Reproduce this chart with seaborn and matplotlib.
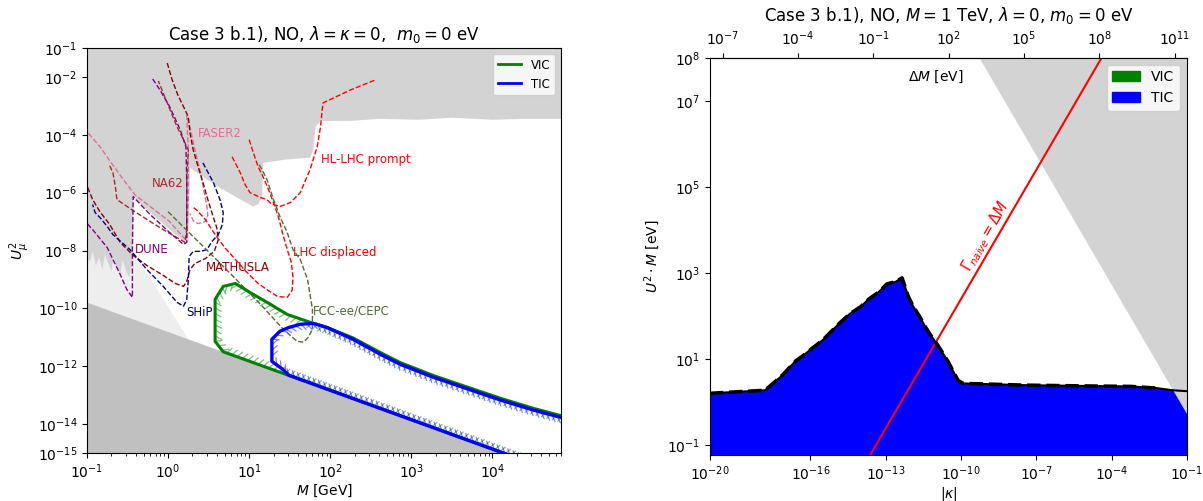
import numpy as np
import matplotlib
matplotlib.use("Agg")
import matplotlib.pyplot as plt
import matplotlib.patheffects as pe
from matplotlib.lines import Line2D
from matplotlib.patches import Patch
from matplotlib.ticker import NullLocator
import seaborn as sns

# ---------------- left panel: U_mu^2 vs M (log10 values) ----------------
# lower edge of the excluded region (upper grey area)
excl_logM = [-1.05, -0.96, -0.93, -0.89, -0.85, -0.81, -0.78, -0.74, -0.70, -0.67,
             -0.63, -0.59, -0.56, -0.52, -0.48, -0.44, -0.43, -0.22, 0.02, 0.19,
             0.25, 0.27, 0.48, 0.64, 0.85, 1.05, 1.11, 1.16, 1.17, 1.44,
             1.75, 1.79, 1.82, 1.88, 2.25, 2.6, 3.1, 3.5, 4.0, 4.4, 4.9]
excl_logU = [-8.17, -8.38, -8.03, -8.52, -8.24, -8.66, -8.14, -8.41, -8.72, -8.21,
             -8.59, -8.83, -8.31, -8.69, -8.93, -8.38, -6.14, -6.69, -7.28, -7.66,
             -7.72, -5.14, -5.55, -5.83, -6.17, -6.48, -6.41, -6.14, -4.97, -4.86,
             -4.79, -4.52, -3.72, -3.52, -3.52, -3.45, -3.48, -3.41, -3.48, -3.45, -3.45]

# faint region (BBN-type) at low mass
light_logM = [-1.05, -0.43, 0.25, 0.25, -1.05]
light_logU = [-8.0, -8.03, -11.06, -16.0, -16.0]

# seesaw line
seesaw_logM = [-1.05, 4.9]
seesaw_logU = [-9.74, -15.78]

# VIC / TIC contours
vic_logM = [4.9, 4.51, 4.10, 3.70, 3.27, 2.86, 2.62, 2.28, 1.96, 1.75, 1.47, 1.22, 1.01,
            0.83, 0.68, 0.58, 0.58, 0.68, 1.5, 4.9]
vic_logU = [-13.75, -13.46, -13.11, -12.73, -12.32, -11.87, -11.53, -11.02, -10.66, -10.48,
            -10.21, -9.79, -9.45, -9.14, -9.24, -9.69, -11.14, -11.50, -12.33, -15.78]
tic_logM = [4.9, 4.51, 4.10, 3.70, 3.27, 2.86, 2.62, 2.28, 1.96, 1.79, 1.63, 1.49, 1.38,
            1.28, 1.28, 1.41, 1.49, 4.9]
tic_logU = [-13.81, -13.52, -13.17, -12.79, -12.38, -11.93, -11.59, -11.07, -10.66, -10.52,
            -10.55, -10.66, -10.79, -11.07, -11.83, -12.10, -12.31, -15.78]

# projected sensitivities
faser_logM = [-1.04, -1.01, -0.84, -0.70, -0.57, -0.41, -0.17, 0.02, 0.19, 0.23, 0.25, 0.25,
              0.23, 0.27, 0.33, 0.40, 0.44, 0.48, 0.49, 0.46, 0.37, 0.31, 0.27]
faser_logU = [-2.97, -3.86, -4.41, -4.97, -5.48, -6.07, -6.59, -7.00, -7.55, -7.62, -6.24, -4.52,
              -3.34, -3.72, -4.52, -5.31, -5.90, -6.48, -6.79, -7.00, -7.07, -6.97, -6.72]
dune_logM = [-0.19, -0.10, 0.02, 0.15, 0.22, 0.23, 0.23, 0.19, 0.02, -0.22, -0.43, -0.44,
             -0.44, -0.51, -0.59, -0.68, -0.75, -0.86, -0.93, -1.02]
dune_logU = [-2.07, -2.45, -3.03, -3.83, -4.41, -5.55, -7.72, -7.79, -7.38, -6.76, -6.14, -7.97,
             -9.62, -9.34, -8.83, -8.31, -7.90, -7.52, -7.28, -7.00]
na62_logM = [-0.72, -0.68, -0.65, -0.63, -0.41, -0.06, 0.15, 0.21, 0.23, 0.23, 0.25, 0.19,
             0.11, -0.01, -0.12]
na62_logU = [-5.07, -5.31, -5.79, -6.24, -6.66, -7.28, -7.62, -7.72, -7.28, -5.55, -4.52, -4.17,
             -3.72, -2.90, -2.14]
mathusla_logM = [-0.01, 0.05, 0.12, 0.21, 0.25, 0.27, 0.31, 0.37, 0.42, 0.48, 0.54, 0.60, 0.62,
                 0.57, 0.46, 0.33, 0.27, 0.23, 0.19, 0.09, -0.06, -0.26, -0.43, -0.59, -0.72,
                 -0.84, -0.93, -0.99, -1.02]
mathusla_logU = [-1.52, -2.10, -2.62, -3.14, -3.38, -3.93, -4.52, -5.10, -5.55, -6.14, -6.69,
                 -7.21, -7.62, -8.03, -8.28, -8.45, -8.66, -9.07, -9.24, -9.14, -8.86, -8.52,
                 -8.17, -7.72, -7.10, -6.66, -6.24, -5.83, -5.45]
ship_logM = [0.43, 0.56, 0.64, 0.68, 0.67, 0.62, 0.54, 0.48, 0.40, 0.31, 0.26, 0.25, 0.23,
             0.19, 0.11, -0.06, -0.26, -0.47, -0.68, -0.75, -0.84, -0.90, -0.93]
ship_logU = [-4.97, -5.66, -6.24, -6.69, -7.10, -7.45, -7.69, -7.97, -8.03, -8.03, -8.21, -9.00,
             -9.69, -9.93, -9.79, -9.24, -8.66, -7.97, -7.45, -7.17, -6.86, -6.69, -6.41]
lhcd_logM = [1.00, 1.04, 1.11, 1.16, 1.23, 1.30, 1.36, 1.41, 1.47, 1.52, 1.54, 1.53, 1.47,
             1.35, 1.25, 1.11, 0.96, 0.83, 0.70, 0.58, 0.46, 0.36, 0.30]
lhcd_logU = [-4.17, -4.52, -5.10, -5.38, -5.83, -6.34, -6.83, -7.38, -7.97, -8.41, -8.93, -9.38,
             -9.62, -9.59, -9.41, -9.14, -8.72, -8.31, -7.90, -7.45, -6.93, -6.62, -6.48]
hllhc_logM = [0.79, 0.89, 0.95, 1.01, 1.14, 1.22, 1.27, 1.38, 1.51, 1.63, 1.75, 1.84, 1.88,
              1.91, 2.25, 2.56]
hllhc_logU = [-4.76, -5.31, -5.72, -6.00, -6.17, -6.24, -6.38, -6.48, -6.34, -6.00, -5.21, -4.41,
              -3.72, -2.90, -2.45, -2.10]
fcc_logM = [0.00, 0.27, 0.56, 0.85, 1.14, 1.42, 1.59, 1.67, 1.73, 1.78, 1.78, 1.72, 1.63, 1.54,
            1.47, 1.38, 1.30, 1.22, 1.16, 1.11]
fcc_logU = [-6.66, -7.41, -8.21, -9.03, -9.86, -10.72, -11.14, -11.17, -11.00, -10.72, -10.03,
            -9.00, -8.31, -7.97, -7.38, -6.83, -6.24, -5.55, -5.21, -4.97]

exp_names = ["FASER2", "NA62", "DUNE", "MATHUSLA", "SHiP", "LHC displaced",
             "HL-LHC prompt", "FCC-ee/CEPC"]
exp_colors = ["palevioletred", "brown", "purple", "darkred", "darkblue", "red",
              "red", "darkolivegreen"]
exp_label_logM = [0.37, -0.20, -0.41, 0.47, 0.22, 1.54, 1.88, 1.79]
exp_label_logU = [-3.97, -5.69, -7.97, -8.59, -10.14, -8.07, -4.86, -10.10]

# ---------------- right panel: U^2 M vs |kappa| (log10 values) ----------------
bound_logK = [-20.0, -17.81, -17.17, -16.57, -16.3, -15.94, -15.5, -15.18, -14.8, -14.42,
              -14.0, -13.67, -13.3, -12.95, -12.6, -12.35, -12.11, -11.9, -11.67, -11.4,
              -11.2, -10.92, -10.52, -10.12, -9.92, -7.53, -5.0, -3.23, -2.2, -1.55, -1.0]
bound_logV = [0.21, 0.28, 0.60, 0.97, 1.08, 1.25, 1.45, 1.64, 1.86, 2.06,
              2.22, 2.40, 2.55, 2.75, 2.80, 2.89, 2.47, 2.22, 2.01, 1.73,
              1.55, 1.32, 0.95, 0.51, 0.44, 0.40, 0.38, 0.37, 0.33, 0.28, 0.26]
gray_logK = [-9.28, -1.0]
gray_logV = [8.0, -0.28]
gamma_logK = [-13.8, -4.3]
gamma_logV = [-1.4, 8.1]
dm_per_kappa = 10 ** 12.49   # Delta M [eV] per unit |kappa|


def p(a):
    return 10.0 ** np.asarray(a, dtype=float)


fig = plt.figure(figsize=(12.03, 5.01), dpi=100)
ax1 = fig.add_axes([0.0723, 0.0958, 0.3940, 0.8084])
ax2 = fig.add_axes([0.5902, 0.0918, 0.3965, 0.7930])

# ======== left ========
ax1.set_xscale("log")
ax1.set_yscale("log")

ax1.fill(p(light_logM), p(light_logU), color="#eeeeee", lw=0, zorder=0.5)
ax1.fill(np.r_[p(excl_logM), p(4.9), p(-1.05)], np.r_[p(excl_logU), 1.0, 1.0],
         color="lightgray", lw=0, zorder=0.8)
ax1.fill_between(p(seesaw_logM), p(seesaw_logU), 1e-17, color="silver", lw=0, zorder=1)

curves = [(faser_logM, faser_logU), (na62_logM, na62_logU), (dune_logM, dune_logU),
          (mathusla_logM, mathusla_logU), (ship_logM, ship_logU), (lhcd_logM, lhcd_logU),
          (hllhc_logM, hllhc_logU), (fcc_logM, fcc_logU)]
for (lm, lu), col in zip(curves, exp_colors):
    sns.lineplot(x=p(lm), y=p(lu), sort=False, estimator=None, color=col, lw=1.0,
                 linestyle="--", ax=ax1, zorder=2)

for name, col, lm, lu in zip(exp_names, exp_colors, exp_label_logM, exp_label_logU):
    ax1.text(p(lm), p(lu), name, color=col, fontsize=8.5, ha="left", va="center", zorder=4)

sns.lineplot(x=p(vic_logM), y=p(vic_logU), sort=False, estimator=None, color="green",
             lw=2.2, ax=ax1, zorder=3)
ax1.lines[-1].set_path_effects([pe.TickedStroke(spacing=4.0, angle=60, length=1.25,
                                                linewidth=0.9, alpha=0.5), pe.Normal()])
sns.lineplot(x=p(tic_logM), y=p(tic_logU), sort=False, estimator=None, color="blue",
             lw=2.4, ax=ax1, zorder=3.1)
ax1.lines[-1].set_path_effects([pe.TickedStroke(spacing=4.0, angle=130, length=1.25,
                                                linewidth=0.9, alpha=0.5), pe.Normal()])

ax1.set_xlim(0.1, 7e4)
ax1.set_ylim(1e-15, 1e-1)
ax1.set_yticks([1e-1, 1e-2, 1e-4, 1e-6, 1e-8, 1e-10, 1e-12, 1e-14, 1e-15])
ax1.set_xlabel(r"$M$ [GeV]", labelpad=1)
ax1.set_ylabel(r"$U_\mu^2$")
ax1.set_title(r"Case 3 b.1), NO, $\lambda=\kappa=0$,  $m_0=0$ eV")
ax1.legend(handles=[Line2D([], [], color="green", lw=2, label="VIC"),
                    Line2D([], [], color="blue", lw=2, label="TIC")],
           loc="upper right", fontsize=8.5)

# ======== right ========
ax2.set_xscale("log")
ax2.set_yscale("log")
K = p(bound_logK)
V = p(bound_logV)
ax2.fill_between(K, V, 1e-3, color="green", lw=0, zorder=1)
ax2.fill_between(K, V, 1e-3, color="blue", lw=0, zorder=1.1)
ax2.fill_between(p(gray_logK), p(gray_logV), 1e9, color="lightgray", lw=0, zorder=1.2)
sns.lineplot(x=p(gamma_logK), y=p(gamma_logV), sort=False, estimator=None, color="red",
             lw=1.5, ax=ax2, zorder=2)
sns.lineplot(x=K, y=V, sort=False, estimator=None, color="black", lw=1.5, ax=ax2, zorder=3)
mask = np.asarray(bound_logK) <= -2.2
sns.lineplot(x=K[mask], y=V[mask], sort=False, estimator=None, color="black", lw=2.6,
             linestyle="--", ax=ax2, zorder=3.1)

ax2.text(p(-9.02), p(3.85), r"$\Gamma_{naive} = \Delta M$", color="red", fontsize=10.5,
         rotation=59.8, ha="center", va="center", rotation_mode="anchor", zorder=4)

ax2.set_xlim(1e-20, 1e-1)
ax2.set_ylim(0.06, 1e8)
ax2.set_xticks([1e-20, 1e-16, 1e-13, 1e-10, 1e-7, 1e-4, 1e-1])
ax2.set_yticks([1e-1, 1e1, 1e3, 1e5, 1e7, 1e8])
ax2.xaxis.set_minor_locator(NullLocator())
ax2.yaxis.set_minor_locator(NullLocator())
ax2.set_xlabel(r"$|\kappa|$", labelpad=1)
ax2.set_ylabel(r"$U^2 \cdot M$ [eV]")

top = ax2.secondary_xaxis("top", functions=(lambda k: k * dm_per_kappa,
                                            lambda d: d / dm_per_kappa))
top.set_xticks([1e-7, 1e-4, 1e-1, 1e2, 1e5, 1e8, 1e11])
top.xaxis.set_minor_locator(NullLocator())
ax2.text(0.474, 0.951, r"$\Delta M$ [eV]", transform=ax2.transAxes, ha="center",
         va="center", fontsize=10, zorder=5)
ax2.set_title(r"Case 3 b.1), NO, $M = 1$ TeV, $\lambda = 0$, $m_0 = 0$ eV")
ax2.legend(handles=[Patch(color="green", label="VIC"), Patch(color="blue", label="TIC")],
           loc="upper right")

fig.savefig("out.png", dpi=100)
